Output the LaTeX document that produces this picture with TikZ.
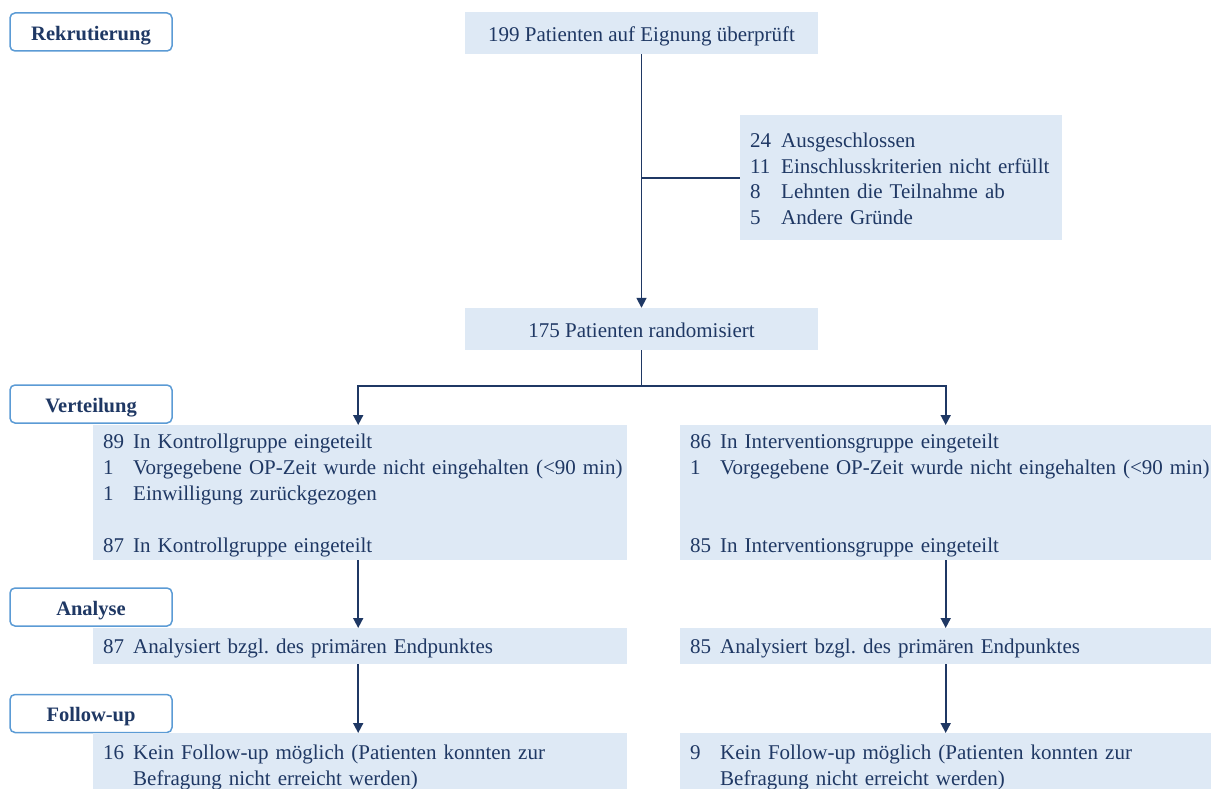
\documentclass[tikz,border=0pt]{standalone}
\usepackage{fontspec}
\setmainfont{Liberation Serif}
\usetikzlibrary{arrows.meta}
\definecolor{navy}{HTML}{1F3864}
\definecolor{boxfill}{HTML}{DEE9F5}
\definecolor{stageblue}{HTML}{5B9BD5}
\newcommand{\nrcol}[1]{\makebox[30pt][l]{#1}}
\frenchspacing
\begin{document}
\begin{tikzpicture}[x=1pt,y=-1pt,
  every node/.style={font=\fontsize{21}{25.5}\selectfont, text=navy},
  infobox/.style={fill=boxfill, draw=none, inner ysep=0pt, inner xsep=10pt, align=left},
  centerbox/.style={fill=boxfill, draw=none, inner sep=0pt, minimum width=353pt, minimum height=42pt,
    text height=17pt, text depth=0pt},
  stagebox/.style={draw=stageblue, line width=1.5pt, rounded corners=5pt, fill=white,
    minimum width=162pt, minimum height=38pt, inner sep=0pt,
    text height=16.5pt, text depth=0pt,
    font=\fontsize{20.5}{24}\selectfont\bfseries},
  conn/.style={draw=navy, line width=1.7pt},
  arr/.style={conn, -{Triangle[width=10pt,length=10pt]}}]
\clip (0,0) rectangle (1213,789);
\fill[white] (0,0) rectangle (1213,789);

% stage labels
\node[stagebox] (s1) at (91,32) {Rekrutierung};
\node[stagebox] (s2) at (91,404) {Verteilung};
\node[stagebox] (s3) at (91,607) {Analyse};
\node[stagebox] (s4) at (91,713.5) {Follow-up};

% main boxes
\node[centerbox] (top) at (641.5,33) {199 Patienten auf Eignung überprüft};
\node[centerbox] (rand) at (641.5,329) {175 Patienten randomisiert};

\node[infobox, anchor=north west, minimum width=322pt, minimum height=125pt, text width=302pt,
  text height=16.5pt] (excl) at (740,115)
 {\makebox[31pt][l]{24}Ausgeschlossen\\
  \makebox[31pt][l]{11}Einschlusskriterien nicht erfüllt\\
  \makebox[31pt][l]{8}Lehnten die Teilnahme ab\\
  \makebox[31pt][l]{5}Andere Gründe};

\node[infobox, anchor=north west, minimum width=534pt, minimum height=135pt, text width=514pt,
  text height=20pt, font=\fontsize{21}{25.8}\selectfont] (kg) at (93,425)
 {\nrcol{89}In Kontrollgruppe eingeteilt\\
  \nrcol{1}\mbox{Vorgegebene OP-Zeit wurde nicht eingehalten (<90 min)}\\
  \nrcol{1}Einwilligung zurückgezogen\\
  ~\\
  \nrcol{87}In Kontrollgruppe eingeteilt};

\node[infobox, anchor=north west, minimum width=531pt, minimum height=135pt, text width=511pt,
  text height=20pt, font=\fontsize{21}{25.8}\selectfont] (ig) at (680,425)
 {\nrcol{86}In Interventionsgruppe eingeteilt\\
  \nrcol{1}\mbox{Vorgegebene OP-Zeit wurde nicht eingehalten (<90 min)}\\
  ~\\
  ~\\
  \nrcol{85}In Interventionsgruppe eingeteilt};

\node[infobox, anchor=north west, minimum width=534pt, minimum height=36pt, text width=514pt,
  text height=14.5pt, text depth=0.5pt] (ka) at (93,628)
 {\nrcol{87}Analysiert bzgl. des primären Endpunktes};
\node[infobox, anchor=north west, minimum width=531pt, minimum height=36pt, text width=511pt,
  text height=14.5pt, text depth=0.5pt] (ia) at (680,628)
 {\nrcol{85}Analysiert bzgl. des primären Endpunktes};

\node[infobox, anchor=north west, minimum width=534pt, minimum height=69pt, text width=514pt] (kf) at (93,733)
 {\nrcol{16}Kein Follow-up möglich (Patienten konnten zur\\
  \nrcol{}Befragung nicht erreicht werden)};
\node[infobox, anchor=north west, minimum width=531pt, minimum height=69pt, text width=511pt] (if) at (680,733)
 {\nrcol{9}Kein Follow-up möglich (Patienten konnten zur\\
  \nrcol{}Befragung nicht erreicht werden)};

% connectors
\draw[arr] (top.south) -- (rand.north);
\draw[conn] (top.south |- excl.west) -- (excl.west);
\coordinate (split) at (641.5,386);
\draw[conn] (rand.south) -- (split);
\draw[arr] (split) -| ([xshift=-2pt]kg.north);
\draw[arr] (split) -| (ig.north);
\draw[arr] ([xshift=-2pt]kg.south) -- ([xshift=-2pt]ka.north);
\draw[arr] (ig.south) -- (ia.north);
\draw[arr] ([xshift=-2pt]ka.south) -- ([xshift=-2pt]kf.north);
\draw[arr] (ia.south) -- (if.north);
\end{tikzpicture}
\end{document}
